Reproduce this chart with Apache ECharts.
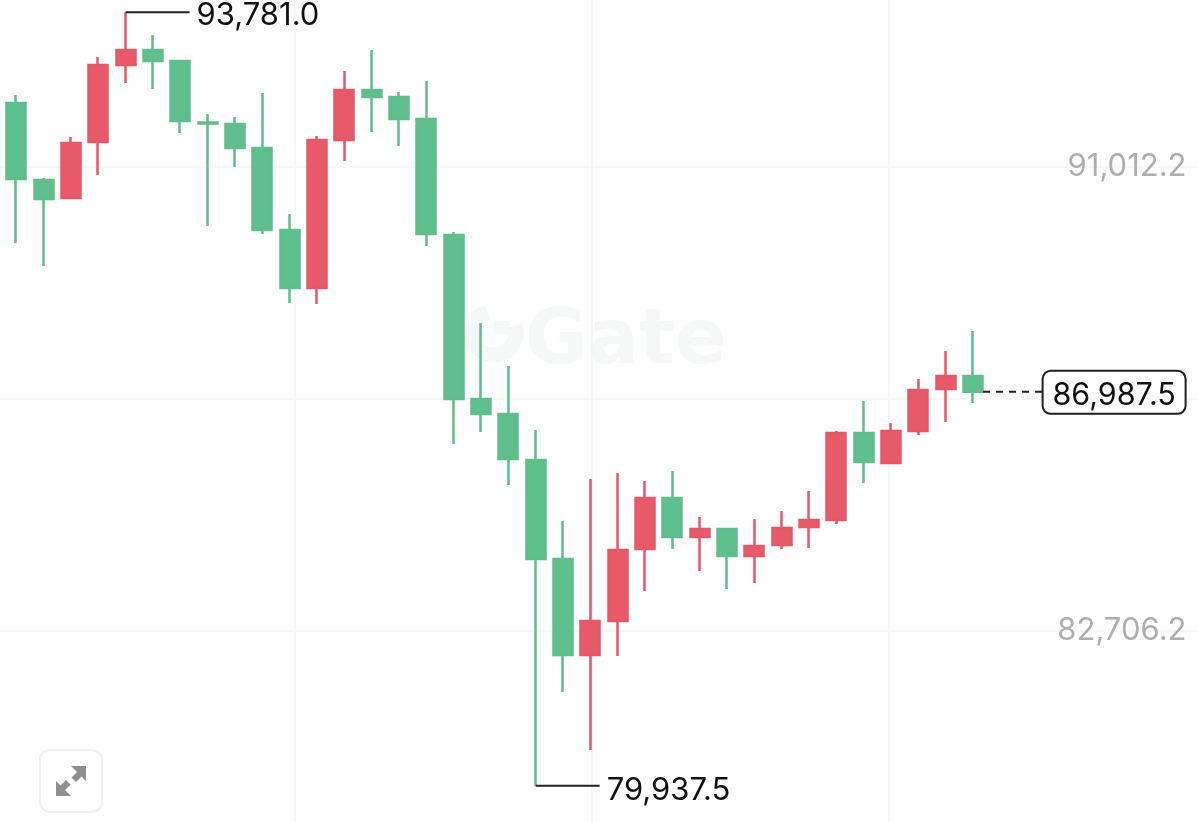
<!DOCTYPE html>
<html><head><meta charset="utf-8">
<style>html,body{margin:0;padding:0;background:#fff}#c{width:1197px;height:822px}</style>
<script src="https://cdn.jsdelivr.net/npm/echarts@6/dist/echarts.min.js"></script>
</head><body><div id="c"></div>
<script>
const opens  = [91638.7,92157.8,90779.5,90457.3,91459.7,92838,93106.5,92909.6,91808.8,91781.9,91352.3,89884.5,88846.3,91495.5,92390.5,92265.2,91871.4,89795,86859.4,86590.9,85767.5,83995.2,82277,82885.5,84174.4,85087.3,84389.2,84532.4,84049.1,84246,84568.2,84693.5,86250.8,85713.8,86286.6,87038.4,87271.1];
const closes = [92157.8,90797.4,90439.4,91441.8,92838,93106.5,92909.6,91835.6,91790.9,91352.3,89884.5,88846.3,91495.5,92390.5,92265.2,91871.4,89812.9,86859.4,86590.9,85785.4,83995.2,82277,82885.5,84156.5,85087.3,84389.2,84532.4,84049.1,84228.1,84550.3,84693.5,86250.8,85731.7,86286.6,87020.5,87271.1,86987.5];
const lows   = [91638.7,89651.8,89240.1,90457.3,90869,92515.8,92408.4,91620.8,89956.1,91012.2,89812.9,88577.8,88559.9,91119.6,91638.7,91388.1,89598.1,86053.9,86268.7,85320,79937.5,81614.7,80576.5,82259.1,83422.6,84174.4,83780.6,83458.4,83566,84174.4,84192.3,84621.9,85355.8,85713.8,86215,86447.7,86787.8];
const highs  = [92157.8,92301,90815.3,91549.2,92981,93781,93375,92927.5,91960.9,91907.2,92336.8,90170.9,91567.1,92730.6,93106.5,92354.7,92551.6,89848.7,88219.8,87450.1,86304.5,84675.6,85427.4,85534.8,85391.6,85570.6,84747.3,84532.4,84711.4,84854.6,85212.6,86286.6,86823.6,86429.8,87217.4,87718.6,88076.6];
const emptySlots = 8;
const priceTicks = [82706.2, 91012.2];
const priceGridLines = [82706.2, 86859.2, 91012.2];
const timeGridLines = [11.7, 22.56, 33.43];

const fmt = v => v.toLocaleString('en-US', {minimumFractionDigits: 1, maximumFractionDigits: 1});
const categories = opens.map((_, i) => 'C' + i).concat(Array.from({length: emptySlots}, (_, i) => 'E' + i));
const candles = opens.map((o, i) => [o, closes[i], lows[i], highs[i]]);
const hiIdx = highs.indexOf(Math.max(...highs));
const loIdx = lows.indexOf(Math.min(...lows));
const lastIdx = closes.length - 1;
const FONT = 'Inter';

const chart = echarts.init(document.getElementById('c'), null, {renderer: 'canvas'});

const annotations = [
  [hiIdx, highs[hiIdx], 'hi'],
  [loIdx, lows[loIdx], 'lo'],
  [lastIdx, closes[lastIdx], 'last']
];

function renderAnn(params, api) {
  const idx = api.value(0), val = api.value(1);
  const kind = annotations[params.dataIndex][2];
  const p = api.coord([idx, val]);
  const x = p[0], y = p[1];
  const ink = '#1f1f1f';
  if (kind === 'last') {
    return {type: 'group', children: [
      {type: 'line', shape: {x1: x + 10, y1: y, x2: x + 70, y2: y}, style: {stroke: ink, lineWidth: 2, lineDash: [7, 6]}},
      {type: 'rect', shape: {x: x + 69.5, y: y - 21, width: 143, height: 43, r: 8}, style: {fill: '#fff', stroke: ink, lineWidth: 2}},
      {type: 'text', style: {x: x + 141, y: y + 4, text: fmt(val), fill: '#111', font: '30.5px ' + FONT, align: 'center', verticalAlign: 'middle'}}
    ]};
  }
  const dy = kind === 'hi' ? 3 : 5;
  return {type: 'group', children: [
    {type: 'line', shape: {x1: x, y1: y, x2: x + 64, y2: y}, style: {stroke: ink, lineWidth: 2}},
    {type: 'text', style: {x: x + 71, y: y + dy, text: fmt(val), fill: '#111', font: '31px ' + FONT, align: 'left', verticalAlign: 'middle'}}
  ]};
}

chart.setOption({
  animation: false,
  backgroundColor: '#ffffff',
  grid: {left: -24.8, right: -8.5, top: 0, bottom: 0, containLabel: false, outerBoundsMode: 'none'},
  xAxis: [
    {type: 'category', data: categories, boundaryGap: true, show: false},
    {type: 'value', min: 0, max: categories.length, position: 'bottom',
     axisLine: {show: false}, axisLabel: {show: false},
     axisTick: {show: false, customValues: timeGridLines},
     splitLine: {show: true, lineStyle: {color: '#f5f5f5', width: 1.5}}}
  ],
  yAxis: {
    type: 'value', position: 'right', min: 79287.7, max: 94001.5, scale: true,
    axisLine: {show: false},
    axisTick: {show: false, customValues: priceGridLines},
    axisLabel: {inside: true, margin: 19, customValues: priceTicks, color: '#aeaeae',
      fontFamily: FONT, fontSize: 31, padding: [4, 0, 0, 0], formatter: v => fmt(v), hideOverlap: false},
    splitLine: {show: true, lineStyle: {color: '#f4f4f4', width: 1.5}}
  },
  graphic: [
    {type: 'text', z: 0, left: 525, top: 305, style: {text: 'Gate', font: '700 76px "DejaVu Sans"', fill: '#f6f7f7'}},
    {type: 'arc', z: 0, shape: {cx: 494, cy: 333, r: 22, startAngle: -0.35, endAngle: 4.4}, style: {fill: 'none', stroke: '#f6f7f7', lineWidth: 15}},
    {type: 'rect', z: 0, shape: {x: 494, y: 321, width: 15, height: 13}, style: {fill: '#f6f7f7'}},
    {type: 'rect', z: 5, shape: {x: 40, y: 750, width: 62, height: 62, r: 10}, style: {fill: '#fff', stroke: '#f1f1f1', lineWidth: 2}},
    {type: 'polygon', z: 6, shape: {points: [[86, 766], [86, 781], [81.5, 776.5], [76, 782], [71.5, 777.5], [77, 772], [71, 766]]}, style: {fill: '#8f8f8f'}},
    {type: 'polygon', z: 6, shape: {points: [[56, 796], [56, 781], [60.5, 785.5], [66, 780], [70.5, 784.5], [65, 790], [71, 796]]}, style: {fill: '#8f8f8f'}}
  ],
  series: [
    {type: 'candlestick', data: candles, barWidth: 19.5, clip: false, xAxisIndex: 0,
     itemStyle: {color: '#E85A6A', color0: '#5FC08D', borderColor: '#E4596A', borderColor0: '#62BC8D', borderWidth: 2.5},
     silent: true, z: 3},
    {type: 'custom', data: annotations.map(a => [a[0], a[1]]), xAxisIndex: 0, renderItem: renderAnn, clip: false, silent: true, z: 4, encode: {x: 0, y: 1}}
  ]
});
</script></body></html>
